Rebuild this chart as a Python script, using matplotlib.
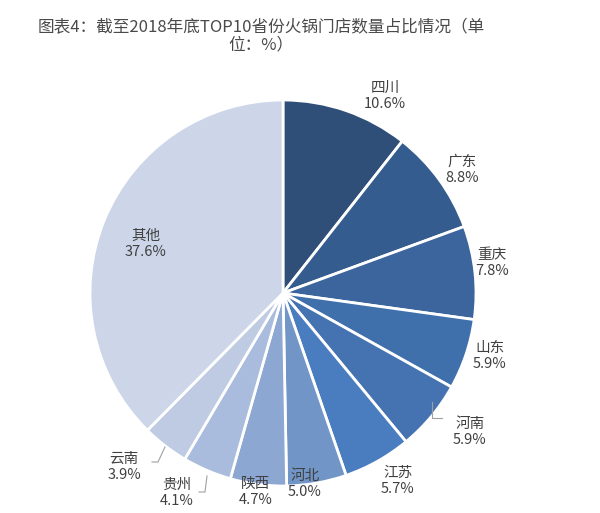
import matplotlib
matplotlib.use("Agg")
import matplotlib.pyplot as plt
import numpy as np

plt.rcParams['font.family'] = ['Noto Sans CJK SC', 'DejaVu Sans']

provinces = ['四川', '广东', '重庆', '山东', '河南', '江苏', '河北', '陕西', '贵州', '云南', '其他']
shares = [10.6, 8.8, 7.8, 5.9, 5.9, 5.7, 5.0, 4.7, 4.1, 3.9, 37.6]
colors = ['#2F4F79', '#355C8E', '#3B659C', '#4070AC', '#4573B2', '#4A7DC0',
          '#7095C6', '#8DA7D3', '#A9BCDD', '#BECBE3', '#CDD6E8']
title = '图表4：截至2018年底TOP10省份火锅门店数量占比情况（单\n位：%）'

W, H = 600, 513
fig = plt.figure(figsize=(W / 100, H / 100), dpi=100)
ax = fig.add_axes([0, 0, 1, 1])

cx, cy, R = 283, H - 293, 193
ax.pie(shares, colors=colors, startangle=90, counterclock=False,
       center=(cx, cy), radius=R, frame=True,
       wedgeprops=dict(edgecolor='white', linewidth=2))
ax.set_xlim(0, W)
ax.set_ylim(0, H)
ax.set_aspect('equal')
ax.axis('off')

# label positions (pixel coords, top-left origin)
label_pos = [(385, 96), (462, 170), (492, 263), (490, 356), (470, 432),
             (398, 481), (305, 484), (256, 492), (177, 493), (124, 467), (146, 244)]
for name, val, (x, y) in zip(provinces, shares, label_pos):
    ax.text(x, H - y, f'{name}\n{val:.1f}%', ha='center', va='center',
            fontsize=10.5, color='#404040', linespacing=1.2)

# leader lines
leaders = [[(442, 418), (432, 418), (432, 402)],
           [(199, 492), (205, 492), (207, 476)],
           [(152, 462), (158, 462), (165, 447)]]
for pts in leaders:
    xs = [p[0] for p in pts]
    ys = [H - p[1] for p in pts]
    ax.plot(xs, ys, color='#A0A0A0', linewidth=0.8)

fig.text(261 / W, 1 - 36 / H, title, ha='center', va='center', fontsize=12,
         color='#4A4A4A', linespacing=1.0)

fig.savefig('out.png', dpi=100, facecolor='white')
